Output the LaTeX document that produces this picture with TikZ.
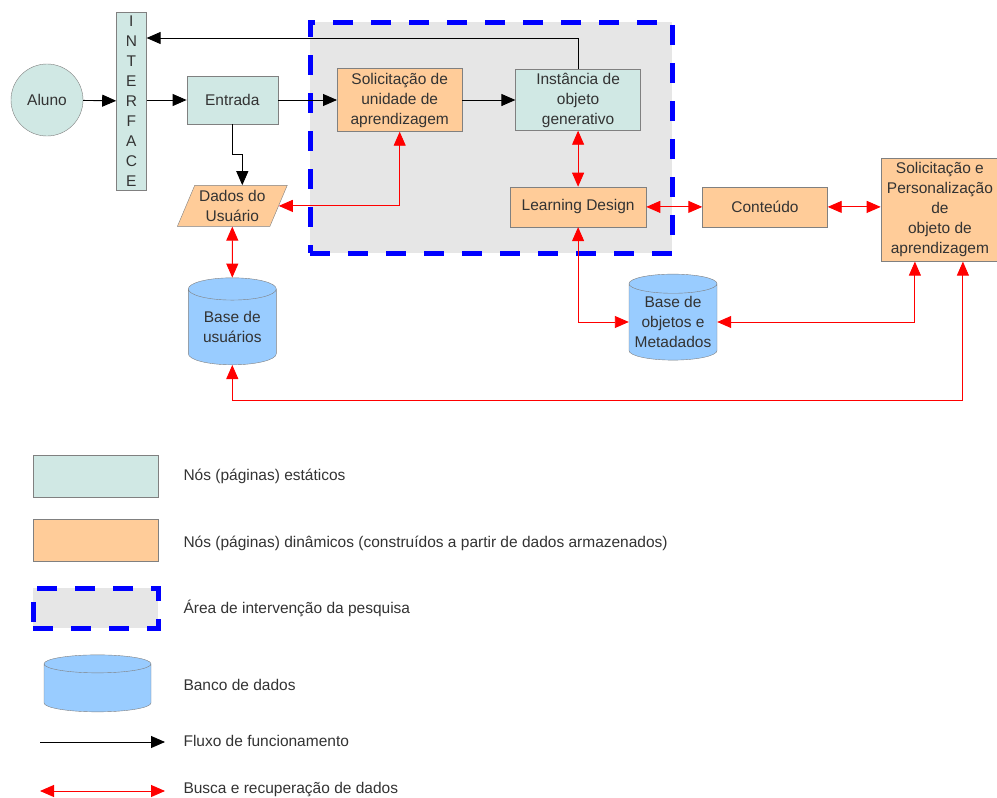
\documentclass[tikz,border=0pt]{standalone}
\usepackage{fontspec}
\setmainfont{Liberation Sans}
\usetikzlibrary{shapes.geometric, arrows.meta, positioning}
\definecolor{mcyan}{HTML}{D0E8E4}
\definecolor{morange}{HTML}{FFCC99}
\definecolor{mdb}{HTML}{99CCFF}
\definecolor{mgrey}{HTML}{E6E6E6}
\definecolor{mline}{HTML}{808080}
\definecolor{mtext}{HTML}{333333}
\definecolor{mblue}{HTML}{0000FF}
\definecolor{mred}{HTML}{FF0000}
\tikzset{trapezium stretches=true}
\tikzstyle{static} = [rectangle, draw=mline, fill=mcyan, text=mtext, text centered, inner sep=0pt]
\tikzstyle{dynamic} = [rectangle, draw=mline, fill=morange, text=mtext, text centered, inner sep=0pt]
\tikzstyle{userdata} = [trapezium, trapezium left angle=64, trapezium right angle=116, draw=mline, fill=morange, text=mtext, text centered, inner sep=0pt]
\tikzstyle{database} = [cylinder, shape border rotate=90, aspect=0.3, draw=mline, fill=mdb, text=mtext, text centered, inner sep=0pt]
\tikzstyle{area} = [rectangle, fill=mgrey, draw=mblue, line width=5pt, dash pattern=on 20pt off 18pt]
\tikzstyle{flow} = [-{Triangle[length=14pt,width=12pt]}, black, line width=0.9pt]
\tikzstyle{fetch} = [{Triangle[length=14pt,width=12pt]}-{Triangle[length=14pt,width=12pt]}, mred, line width=0.9pt]
\tikzstyle{legendtext} = [anchor=west, text=mtext]

\begin{document}
\begin{tikzpicture}[x=1pt, y=1pt, align=center, font=\fontsize{15.5}{20}\selectfont, node distance=40pt]
  \useasboundingbox (0,0) rectangle (997,-798);
  % area de intervencao
  \node (area) [area, minimum width=362, minimum height=231] at (491,-137.5) {};
  % nos
  \node (aluno) [circle, draw=mline, fill=mcyan, text=mtext, minimum size=72, inner sep=0pt] at (47,-100) {Aluno};
  \node (interface) [static, minimum width=30, minimum height=178, right=33pt of aluno, yshift=-1pt] {I\\N\\T\\E\\R\\F\\A\\C\\E};
  \node (entrada) [static, minimum width=91, minimum height=48, right=40pt of interface, yshift=1pt] {Entrada};
  \node (solic) [dynamic, minimum width=125, minimum height=63, right=59pt of entrada] {Solicitação de\\unidade de\\aprendizagem};
  \node (inst) [static, minimum width=125, minimum height=61, right=53pt of solic] {Instância de\\objeto\\generativo};
  \node (ld) [dynamic, minimum width=136, minimum height=40, below=56pt of inst] {Learning Design};
  \node (cont) [dynamic, minimum width=125, minimum height=40, right=56pt of ld] {Conteúdo};
  \node (sep) [dynamic, minimum width=118, minimum height=103, right=53pt of cont, yshift=-3pt] {Solicitação e\\Personalização\\de\\objeto de\\aprendizagem};
  \node (dados) [userdata, minimum width=110, minimum height=41, below=61pt of entrada] {Dados do\\Usuário};
  \node (busers) [database, aspect=0.38, minimum width=88, minimum height=87, below=51pt of dados] {Base de\\usuários};
  \node (bobj) [database, aspect=0.25, minimum width=88, minimum height=86] at (673,-322) {Base de\\objetos e\\Metadados};
  % fluxo
  \draw [flow] (aluno) -- (interface);
  \draw [flow] (interface.east |- entrada) -- (entrada);
  \draw [flow] (entrada) -- (solic);
  \draw [flow] (solic) -- (inst);
  \draw [flow] (inst.north) |- (interface.east |- 0,-38);
  \draw [flow] (entrada.south) -- ++(0,-30) -| ([xshift=10pt]dados.north);
  % busca
  \draw [fetch] (solic.south) |- (dados.east);
  \draw [fetch] (inst.south) -- (inst.south |- ld.north);
  \draw [fetch] (ld) -- (cont);
  \draw [fetch] (cont) -- (cont -| sep.west);
  \draw [fetch] (dados) -- (busers);
  \draw [fetch] (ld.south) |- (bobj.west);
  \draw [fetch] (bobj.east) -| ([xshift=-25pt]sep.south);
  \draw [fetch] (busers.south) -- ++(0,-35) -| ([xshift=23pt]sep.south);
  % legenda
  \node (legstatic) [static, minimum width=125, minimum height=42] at (95.5,-476) {};
  \node (legdynamic) [dynamic, minimum width=125, minimum height=42] at (95.5,-540) {};
  \node (legarea) [area, minimum width=125, minimum height=40] at (95.5,-608) {};
  \node (legdb) [database, inner xsep=30pt, minimum width=107, minimum height=57] at (97.5,-692) {};
  \coordinate (legflowa) at (40,-742);
  \coordinate (legflowb) at (165,-742);
  \coordinate (legfetcha) at (40,-791);
  \coordinate (legfetchb) at (165,-791);
  \draw [flow] (legflowa) -- (legflowb);
  \draw [fetch] (legfetcha) -- (legfetchb);
  \node (txtstatic) [legendtext] at (180,-476) {Nós (páginas) estáticos};
  \node (txtdynamic) [legendtext] at (180,-543) {Nós (páginas) dinâmicos (construídos a partir de dados armazenados)};
  \node (txtarea) [legendtext] at (180,-608) {Área de intervenção da pesquisa};
  \node (txtdb) [legendtext] at (180,-685) {Banco de dados};
  \node (txtflow) [legendtext] at (180,-741) {Fluxo de funcionamento};
  \node (txtfetch) [legendtext] at (180,-790) {Busca e recuperação de dados};
\end{tikzpicture}
\end{document}
